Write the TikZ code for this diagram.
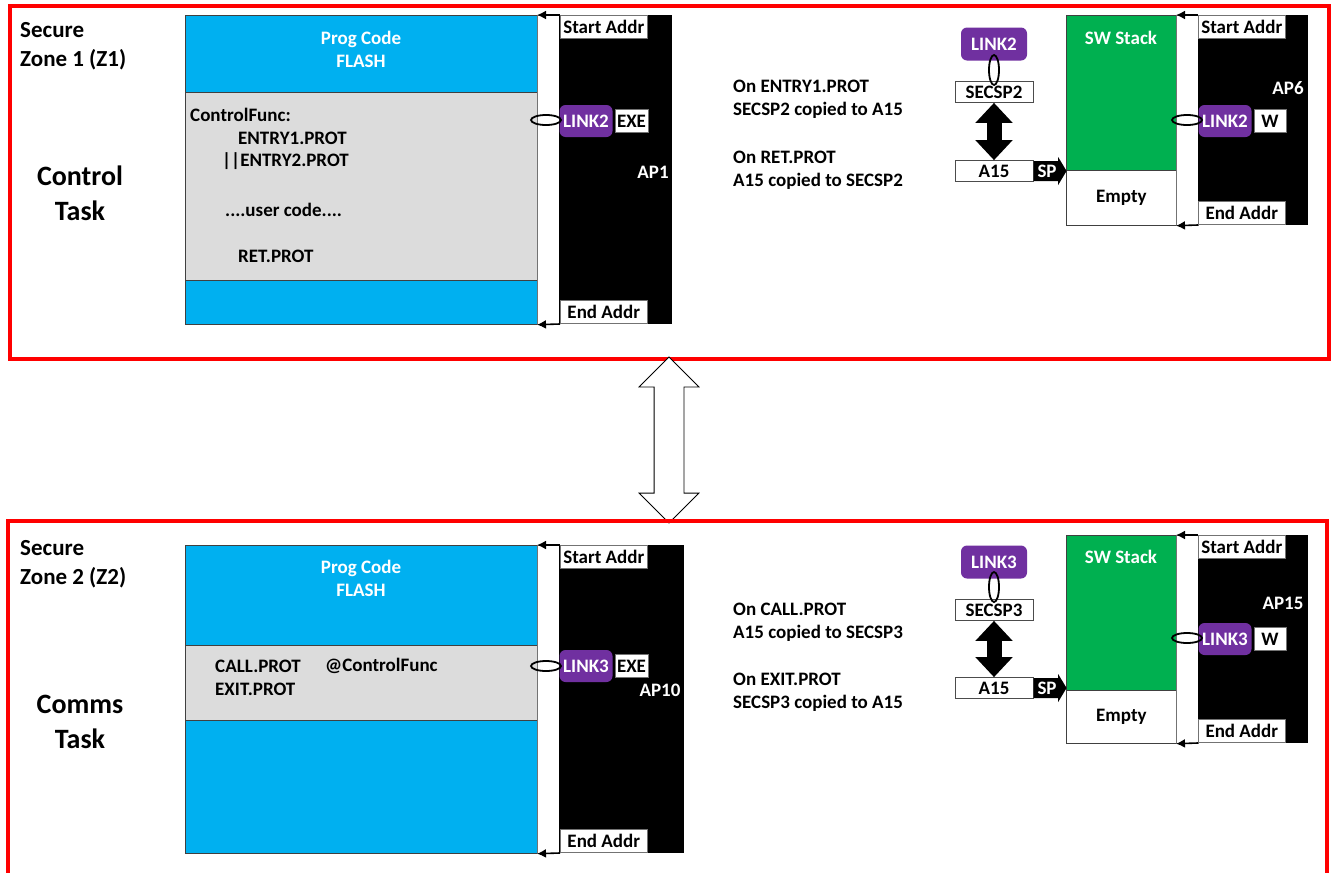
\documentclass[tikz,border=0pt]{standalone}
\usepackage{fontspec}
\setmainfont{Carlito}
\usetikzlibrary{arrows.meta,positioning,shapes.geometric,shapes.arrows}
\definecolor{zonered}{RGB}{255,0,0}
\definecolor{flashblue}{RGB}{0,176,240}
\definecolor{codegray}{RGB}{220,220,220}
\definecolor{stackgreen}{RGB}{0,176,80}
\definecolor{linkpurple}{RGB}{112,48,160}
\begin{document}
\begin{tikzpicture}[
    x=1pt, y=-1pt,
    every node/.style={inner sep=0pt, font=\bfseries\fontsize{19}{23}\selectfont},
    zone/.style={draw=zonered, line width=4pt, anchor=north west},
    zonename/.style={anchor=north west, align=left, font=\bfseries\fontsize{23}{29}\selectfont},
    taskname/.style={align=center, font=\bfseries\fontsize{28}{35}\selectfont},
    region/.style={anchor=north west, draw=black!75, line width=0.7pt},
    flash/.style={region, fill=flashblue},
    code/.style={region, fill=codegray},
    stack/.style={region, fill=stackgreen},
    bus/.style={region, fill=white, draw=black!55, minimum width=22pt},
    mpu/.style={anchor=north west, fill=black},
    addr/.style={fill=white, draw=black!55, line width=0.6pt, minimum width=87pt, minimum height=23pt},
    link/.style={fill=linkpurple, text=white, rounded corners=6pt, minimum width=53pt, minimum height=32pt},
    perm/.style={fill=white, draw=black!55, line width=0.6pt, minimum height=23pt},
    reg/.style={fill=white, draw=black!70, line width=0.7pt, minimum width=78pt, minimum height=21pt},
    ring/.style={ellipse, draw=black, line width=1.8pt, minimum width=30pt, minimum height=10pt},
    vring/.style={ring, minimum width=10pt, minimum height=30pt},
    ptr/.style={-{Latex[length=9pt,width=9pt]}, line width=1.6pt},
    swap/.style={{Triangle[length=20pt,width=36pt]}-{Triangle[length=20pt,width=36pt]}, line width=15pt},
    sparrow/.style={single arrow, fill=black, text=white, single arrow head extend=3pt,
        single arrow tip angle=118, minimum height=33pt, minimum width=28pt, inner sep=1pt},
    note/.style={anchor=west, align=left}
]
\useasboundingbox (0,0) rectangle (1331,873);

% secure zone 1
\node[zone, minimum width=1319pt, minimum height=353pt] (z1) at (8,4) {};
\node[zonename] (z1name) at (20,22) {Secure\\Zone 1 (Z1)};
\node[taskname] (task1) at (80,193) {Control\\Task};

\node[flash, minimum width=352pt, minimum height=309pt] (flash1) at (185,15) {};
\node[code, minimum width=352pt, minimum height=188pt] (code1) at (185,92) {};
\node[text=white, align=center] (prog1) at (361,49) {Prog Code\\FLASH};
\node[anchor=west] (func) at (190,115) {ControlFunc:};
\node[anchor=west] (entry1) at (238,138) {ENTRY1.PROT};
\node[anchor=west] (entry2) at (222,161) {||ENTRY2.PROT};
\node[anchor=west] (user) at (225,210) {....user code....};
\node[anchor=west] (ret) at (238,256) {RET.PROT};

\node[bus, minimum height=309pt] (bus1) at (537,15) {};
\node[mpu, minimum width=113pt, minimum height=309pt] (ap1) at (559,15) {};
\node[addr, anchor=north west] (start1) at (560,15) {Start Addr};
\node[addr, anchor=south west] (end1) at (560,324) {End Addr};
\draw[ptr] (start1.north west) -- (bus1.north west);
\draw[ptr] (end1.south west) -- (bus1.south west);
\node[link] (link1) at (586,121) {LINK2};
\node[perm, minimum width=33pt, right=2pt of link1] (exe1) {EXE};
\node[ring] (ring1) at (546,120) {};
\node[text=white] (ap1name) at (653,172) {AP1};

\node[note] (entrynote) at (733,99) {On ENTRY1.PROT\\SECSP2 copied to A15};
\node[note] (retnote) at (733,170) {On RET.PROT\\A15 copied to SECSP2};

\node[link, minimum width=66pt, minimum height=33pt] (link2) at (994,44) {LINK2};
\node[reg] (secsp2) at (994,92) {SECSP2};
\node[reg] (a15a) at (994,171) {A15};
\node[vring] (ring2) at (994,70) {};
\draw[swap] (secsp2.south) -- (a15a.north);

\node[stack, minimum width=110pt, minimum height=155pt] (stack1) at (1066,15) {};
\node[region, fill=white, minimum width=110pt, minimum height=55pt] (empty1) at (1066,170) {Empty};
\node[text=white] (stackname1) at (1121,38) {SW Stack};
\node[sparrow, anchor=tail] (sp1) at (a15a.east) {SP};
\node[bus, minimum height=210pt] (bus2) at (1176,15) {};
\node[mpu, minimum width=110pt, minimum height=210pt] (ap6) at (1198,15) {};
\node[addr, anchor=north west] (start2) at (1198,15) {Start Addr};
\node[addr, anchor=south west] (end2) at (1198,225) {End Addr};
\draw[ptr] (start2.north west) -- (bus2.north west);
\draw[ptr] (end2.south west) -- (bus2.south west);
\node[link] (link3) at (1225,121) {LINK2};
\node[perm, minimum width=32pt, right=2pt of link3] (w1) {W};
\node[ring] (ring3) at (1187,120) {};
\node[text=white] (ap6name) at (1288,88) {AP6};

% exchange between the zones
\node[double arrow, draw=black, fill=white, line width=0.8pt, rotate=90,
    inner xsep=0pt, inner ysep=14.5pt, minimum height=166pt,
    double arrow head extend=15pt] (xchg) at (669,440) {};

% secure zone 2
\draw[zonered, line width=4pt] (8,876) |- (1327,521) -- (1327,876);
\node[zonename] (z2name) at (20,540) {Secure\\Zone 2 (Z2)};
\node[taskname] (task2) at (80,722) {Comms\\Task};

\node[flash, minimum width=352pt, minimum height=308pt] (flash2) at (185,545) {};
\node[code, minimum width=352pt, minimum height=75pt] (code2) at (185,645) {};
\node[text=white, align=center] (prog2) at (361,578) {Prog Code\\FLASH};
\node[anchor=west] (call) at (215,666) {CALL.PROT};
\node[anchor=west] (target) at (325,666) {@ControlFunc};
\node[anchor=west] (exit) at (215,689) {EXIT.PROT};

\node[bus, minimum height=308pt] (bus3) at (537,545) {};
\node[mpu, minimum width=125pt, minimum height=308pt] (ap10) at (559,545) {};
\node[addr, anchor=north west] (start3) at (560,545) {Start Addr};
\node[addr, anchor=south west] (end3) at (560,853) {End Addr};
\draw[ptr] (start3.north west) -- (bus3.north west);
\draw[ptr] (end3.south west) -- (bus3.south west);
\node[link] (link4) at (586,666) {LINK3};
\node[perm, minimum width=33pt, right=2pt of link4] (exe2) {EXE};
\node[ring] (ring4) at (546,666) {};
\node[text=white] (ap10name) at (660,690) {AP10};

\node[note] (callnote) at (733,622) {On CALL.PROT\\A15 copied to SECSP3};
\node[note] (exitnote) at (733,692) {On EXIT.PROT\\SECSP3 copied to A15};

\node[link, minimum width=66pt, minimum height=33pt] (link5) at (994,562) {LINK3};
\node[reg] (secsp3) at (994,610) {SECSP3};
\node[reg] (a15b) at (994,688) {A15};
\node[vring] (ring5) at (994,587) {};
\draw[swap] (secsp3.south) -- (a15b.north);

\node[stack, minimum width=110pt, minimum height=155pt] (stack2) at (1066,535) {};
\node[region, fill=white, minimum width=110pt, minimum height=53pt] (empty2) at (1066,690) {Empty};
\node[text=white] (stackname2) at (1121,557) {SW Stack};
\node[sparrow, anchor=tail] (sp2) at (a15b.east) {SP};
\node[bus, minimum height=208pt] (bus4) at (1176,535) {};
\node[mpu, minimum width=110pt, minimum height=208pt] (ap15) at (1198,535) {};
\node[addr, anchor=north west] (start4) at (1198,535) {Start Addr};
\node[addr, anchor=south west] (end4) at (1198,743) {End Addr};
\draw[ptr] (start4.north west) -- (bus4.north west);
\draw[ptr] (end4.south west) -- (bus4.south west);
\node[link] (link6) at (1225,639) {LINK3};
\node[perm, minimum width=32pt, right=2pt of link6] (w2) {W};
\node[ring] (ring6) at (1187,638) {};
\node[text=white] (ap15name) at (1283,603) {AP15};
\end{tikzpicture}
\end{document}
